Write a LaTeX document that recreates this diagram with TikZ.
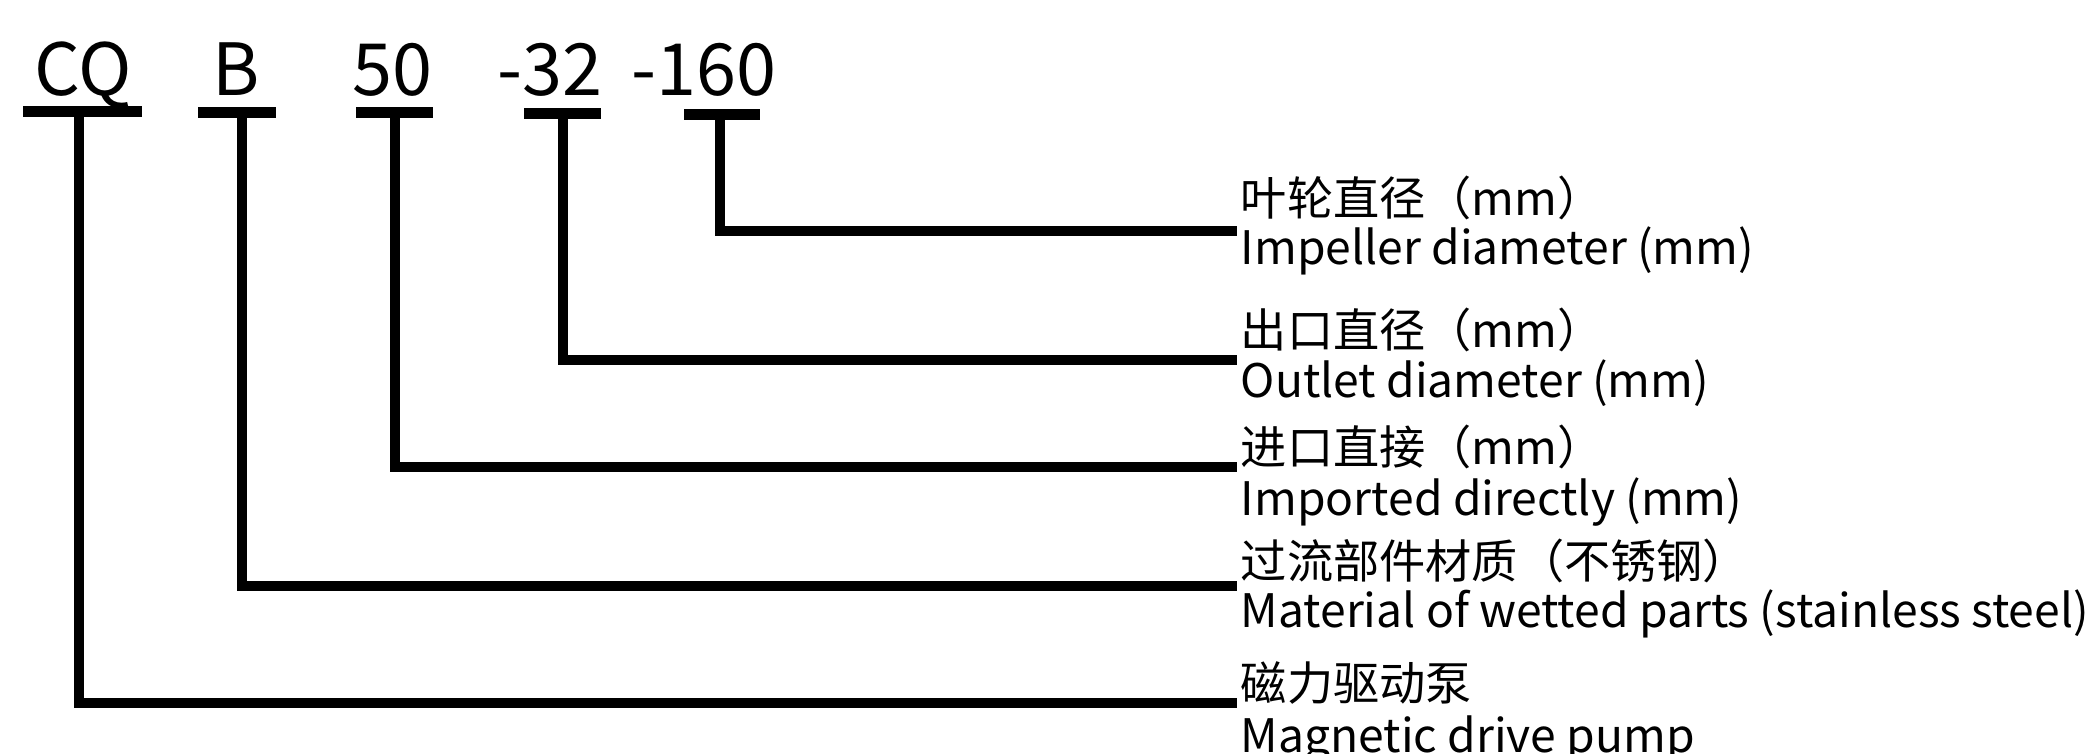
\documentclass[tikz,border=0pt]{standalone}
\usepackage{fontspec}
\setmainfont{Noto Sans CJK SC}
\begin{document}
\begin{tikzpicture}[x=0.25pt,y=-0.25pt,
  code/.style={font=\fontsize{18}{20}\selectfont, anchor=base, inner sep=0pt, text=black},
  bar/.style={fill=black, inner sep=0pt, minimum height=2.75pt},
  lbl/.style={font=\fontsize{11.55}{13}\selectfont, anchor=base west, inner sep=0pt, text=black},
  conn/.style={line width=2.5pt, line join=miter, draw=black}
]
\useasboundingbox (0,0) rectangle (2094,753);

% codes and bars
\node[code] (tCQ) at (83,95) {CQ};
\node[bar, minimum width=29.75pt] (bCQ) at (82.5,111) {};
\node[code] (tB) at (236,95) {B};
\node[bar, minimum width=19.5pt] (bB) at (237,112) {};
\node[code] (t50) at (392,95) {50};
\node[bar, minimum width=19.25pt] (b50) at (394.5,112) {};
\node[code] (t32) at (550,95) {-32};
\node[bar, minimum width=19.25pt] (b32) at (562.5,113) {};
\node[code] (t160) at (704,95) {-160};
\node[bar, minimum width=19pt] (b160) at (722,114) {};

% labels
\coordinate (e1) at (1237,231);
\node[lbl] (c1) at (1240,215) {叶轮直径（mm）};
\node[lbl] (n1) at (1240,264) {Impeller diameter (mm)};

\coordinate (e2) at (1237,360);
\node[lbl] (c2) at (1240,347) {出口直径（mm）};
\node[lbl] (n2) at (1240,397) {Outlet diameter (mm)};

\coordinate (e3) at (1237,467);
\node[lbl] (c3) at (1240,464) {进口直接（mm）};
\node[lbl] (n3) at (1240,515) {Imported directly (mm)};

\coordinate (e4) at (1237,586);
\node[lbl] (c4) at (1240,578) {过流部件材质（不锈钢）};
\node[lbl] (n4) at (1240,627) {Material of wetted parts (stainless steel)};

\coordinate (e5) at (1237,703);
\node[lbl] (c5) at (1240,700) {磁力驱动泵};
\node[lbl] (n5) at (1240,752) {Magnetic drive pump};

% connectors
\draw[conn] ([xshift=-0.5pt]b160.center) |- (e1);
\draw[conn] (b32.center) |- (e2);
\draw[conn] (b50.center) |- (e3);
\draw[conn] ([xshift=1.25pt]bB.center) |- (e4);
\draw[conn] ([xshift=-0.875pt]bCQ.center) |- (e5);
\end{tikzpicture}
\end{document}
